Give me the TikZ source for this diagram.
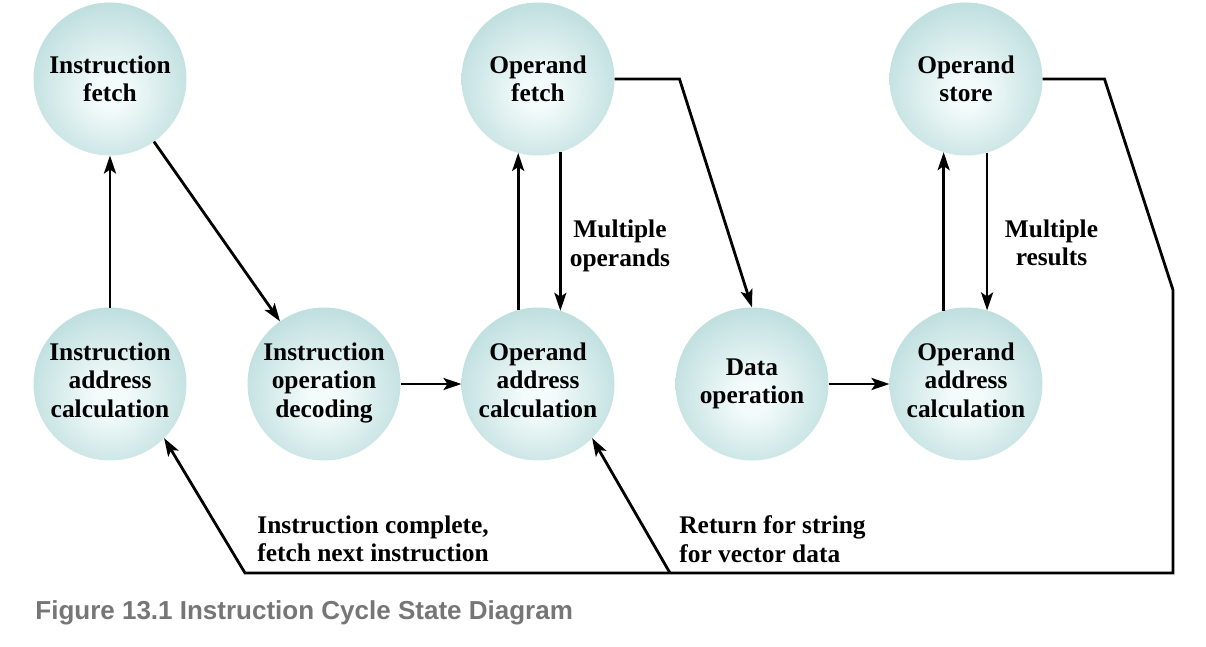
\documentclass[tikz,border=0pt]{standalone}
\usepackage{fontspec}
\setmainfont{Liberation Serif}
\newfontfamily\capfont{Liberation Sans}
\usetikzlibrary{shapes,arrows.meta,positioning,calc}
\definecolor{ballout}{RGB}{136,193,193}
\definecolor{ballin}{RGB}{244,251,251}
\definecolor{capgray}{RGB}{118,118,118}
\pgfdeclareradialshading{ball}{\pgfpoint{0bp}{-5bp}}{color(0bp)=(ballin); color(5bp)=(ballin); color(52bp)=(ballout); color(70bp)=(ballout)}
\tikzstyle{state} = [circle, minimum size=76.5pt, inner sep=0pt, outer sep=0pt,
 shading=ball, align=center, font=\fontsize{12.7}{14.2}\selectfont\bfseries]
\tikzstyle{tri} = [text depth=4pt]
\tikzstyle{note} = [inner sep=0pt, align=center, font=\fontsize{12.7}{14.2}\selectfont\bfseries]
\tikzstyle{line} = [line width=1.4pt, -{Stealth[length=9pt,width=6pt,inset=2pt]}]

\begin{document}
\begin{tikzpicture}[node distance = 76pt and 30.5pt]
\useasboundingbox (0,0) rectangle (603pt,-323.5pt);

% bottom row
\node[state, tri](iaddr) at (55pt,-192pt) {Instruction\\address\\calculation};
\node[state, tri, right = of iaddr](idecode) {Instruction\\operation\\decoding};
\node[state, tri, right = of idecode](oaddr1) {Operand\\address\\calculation};
\node[state, right = of oaddr1](dataop) {Data\\operation};
\node[state, tri, right = of dataop](oaddr2) {Operand\\address\\calculation};

% top row
\node[state, above = of iaddr](ifetch) {Instruction\\fetch};
\node[state, above = of oaddr1](ofetch) {Operand\\fetch};
\node[state, above = of oaddr2](ostore) {Operand\\store};

% labels
\node[note](multops) at (310pt,-123pt) {Multiple\\operands};
\node[note](multres) at (525.75pt,-121.5pt) {Multiple\\results};
\node[note, align=left, anchor=west](complete) at (128.5pt,-269.5pt)
 {Instruction complete,\\fetch next instruction};
\node[note, align=left, anchor=west](strvec) at (339.5pt,-269.5pt)
 {Return for string\\for vector data};
\node[inner sep=0pt, anchor=west, text=capgray,
 font=\capfont\bfseries\fontsize{13}{15}\selectfont](caption) at (17.5pt,-306.5pt)
 {Figure 13.1 Instruction Cycle State Diagram};

% bends of the long lines
\coordinate[right = 32.5pt of ofetch.east](bend);
\coordinate[right = 31pt of ostore.east](loopa);
\coordinate (loopb) at (586.5pt,-145pt);
\coordinate (loopc) at (586.5pt,-286.5pt);
\coordinate (loopd) at (122.5pt,-286.5pt);
\coordinate (split) at (335pt,-286.5pt);

% connectors
\draw[line] (iaddr) -- (ifetch);
\draw[line] (ifetch) -- (idecode);
\draw[line] (idecode) -- (oaddr1);
\draw[line] (oaddr1.105) -- (ofetch.255);
\draw[line] (ofetch.-73) -- (oaddr1.73);
\draw[line] (ofetch.east) -- (bend) -- (dataop.north);
\draw[line] (dataop) -- (oaddr2);
\draw[line] (oaddr2.107) -- (ostore.253);
\draw[line] (ostore.-74) -- (oaddr2.74);
\draw[line] (ostore.east) -- (loopa) -- (loopb) -- (loopc) -- (loopd) -- (iaddr.-45);
\draw[line] (split) -- (oaddr1.-45);

\end{tikzpicture}
\end{document}
